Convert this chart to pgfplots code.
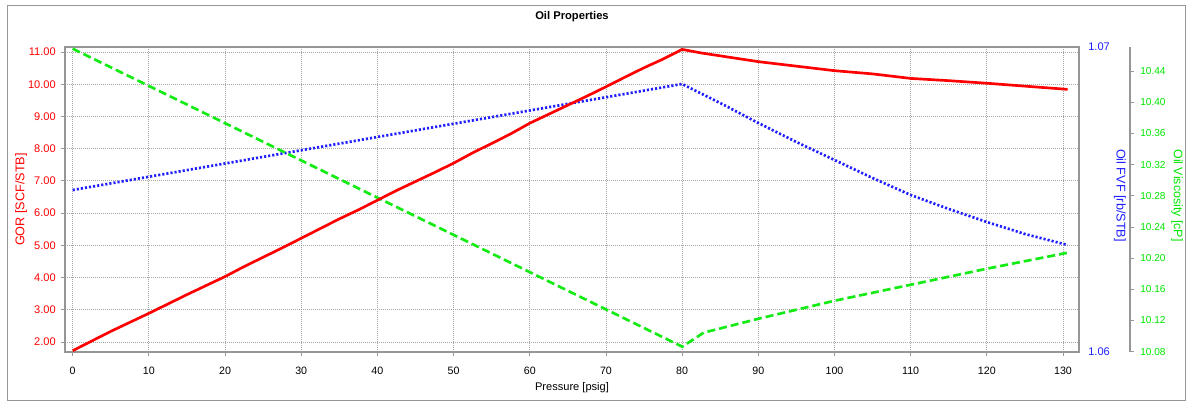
\documentclass[border=0pt]{standalone}
\usepackage{fontspec}
\setmainfont{Liberation Sans}
\usepackage{pgfplots}
\pgfplotsset{compat=1.18}
\definecolor{framegray}{RGB}{150,150,150}
\definecolor{gridgray}{RGB}{165,165,165}
\definecolor{cred}{RGB}{255,0,0}
\definecolor{cblue}{RGB}{30,30,255}
\definecolor{cgreen}{RGB}{0,230,0}
\definecolor{lgreen}{RGB}{20,235,20}

\pgfplotsset{
  base/.style={scale only axis, width=760.5pt, height=228.75pt,
    at={(0pt,0pt)}, anchor=south west, xmin=-1.01, xmax=132.1,
    /pgf/number format/assume math mode=true},
  twodec/.style={/pgf/number format/.cd, fixed, fixed zerofill, precision=2},
}

\begin{document}
\begin{tikzpicture}
\path[use as bounding box] (-48.75pt,-37.5pt) rectangle (842.25pt,264pt);
\draw[framegray, line width=0.75pt] (-42.75pt,-36.75pt) rectangle (840pt,259.5pt);

% main axis: frame, grid, ticks, labels
\begin{axis}[base, ymin=1.6896, ymax=11.155,
  xtick={0,10,...,130}, ytick={2,3,...,11},
  xtick pos=bottom, ytick pos=left,
  grid=major,
  grid style={gridgray, line width=0.6pt, dash pattern=on 0.75pt off 0.75pt},
  axis line style={framegray, line width=1.2pt},
  tick style={framegray, line width=0.6pt}, tick align=outside, major tick length=3pt,
  yticklabel style={cred, font=\fontsize{8.3}{9}\selectfont, anchor=east, inner sep=0pt, xshift=-3.75pt, twodec},
  xticklabel style={black, font=\fontsize{8}{9}\selectfont, anchor=center, inner sep=0pt, yshift=-11.25pt},
  ylabel={GOR [SCF/STB]},
  ylabel style={at={(rel axis cs:0,0.5)}, anchor=center, yshift=33pt, cred, font=\fontsize{9.5}{11}\selectfont},
  xlabel={Pressure [psig]},
  xlabel style={at={(rel axis cs:0.5,0)}, anchor=center, yshift=-26.5pt, font=\fontsize{8.3}{10}\selectfont},
  title={Oil Properties},
  title style={at={(rel axis cs:0.5,1)}, anchor=center, yshift=16.5pt, font=\bfseries\fontsize{8.4}{10}\selectfont},
]
\addplot[draw=none, forget plot] coordinates {(0,5) (130,5)};
\end{axis}

% blue axis: Oil FVF
\begin{axis}[base, ymin=1.06, ymax=1.07, hide x axis, axis y line*=right,
  axis line style={draw=none}, ytick={1.06,1.07}, major tick length=0pt,
  yticklabel style={cblue, font=\fontsize{8.3}{9}\selectfont, anchor=west, inner sep=0pt, xshift=6.75pt, twodec},
  clip=false]
\addplot[cblue, line width=2pt, dash pattern=on 1.6pt off 1.5pt] coordinates {
(0,1.065311) (40,1.067049) (80,1.068787) (85,1.068164) (90,1.067508) (95,1.066885)
(100,1.066295) (105,1.065705) (110,1.065148) (115,1.064689) (120,1.064262)
(125,1.063869) (130.6,1.063508)};
\end{axis}
\node[rotate=-90, cblue, font=\fontsize{9.5}{11}\selectfont] at (791.25pt,117.4pt) {Oil FVF [rb/STB]};

% green axis: Oil Viscosity
\begin{axis}[scale only axis, width=798.75pt, height=228.75pt,
  at={(0pt,0pt)}, anchor=south west, xmin=-1.01, xmax=138.75,
  /pgf/number format/assume math mode=true,
  ymin=10.0796, ymax=10.4708, hide x axis, axis y line*=right,
  axis line style={-, framegray, line width=1.2pt},
  ytick={10.08,10.12,10.16,10.20,10.24,10.28,10.32,10.36,10.40,10.44},
  tick align=outside, major tick length=3pt, tick style={framegray, line width=0.6pt},
  yticklabel style={cgreen, font=\fontsize{7.6}{9}\selectfont, anchor=west, inner sep=0pt, xshift=4.5pt, twodec},
  clip=false]
\addplot[lgreen, line width=2pt, dash pattern=on 6pt off 3pt] coordinates {
(0,10.4686) (80,10.0864) (82.8,10.1044) (90,10.1223) (100,10.1454) (110,10.1659)
(120,10.1865) (130.6,10.2070)};
\end{axis}
\node[rotate=-90, cgreen, font=\fontsize{9.3}{11}\selectfont] at (834pt,117.4pt) {Oil Viscosity [cP]};

% red overlay
\begin{axis}[base, ymin=1.6896, ymax=11.155, hide axis]
\addplot[cred, line width=2pt] coordinates {
(0,1.73) (2.5,2.03) (5,2.33) (7.5,2.61) (10,2.89) (12.5,3.18) (15,3.47) (17.5,3.75)
(20,4.03) (22.5,4.34) (25,4.63) (27.5,4.92) (30,5.22) (32.5,5.52) (35,5.82) (37.5,6.10)
(40,6.40) (42.5,6.70) (45,6.98) (47.5,7.26) (50,7.55) (52.5,7.87) (55,8.16) (57.5,8.46)
(60,8.79) (62.5,9.07) (65,9.35) (67.5,9.63) (70,9.92) (72.5,10.22) (75,10.51) (77.5,10.78)
(80,11.08) (82.5,10.97) (85,10.88) (90,10.70) (95,10.56) (100,10.42) (105,10.32)
(110,10.18) (115,10.11) (120,10.03) (125,9.94) (130.6,9.84)};
\end{axis}
\end{tikzpicture}
\end{document}
